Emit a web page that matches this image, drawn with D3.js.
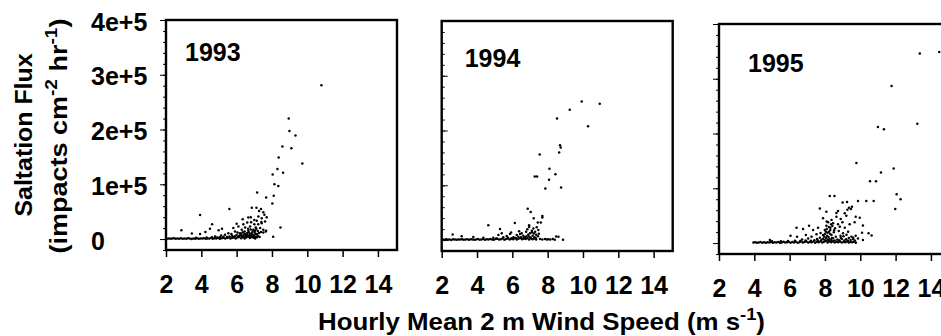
<!DOCTYPE html>
<html lang="en">
<head>
<meta charset="UTF-8">
<title>Saltation Flux vs Wind Speed</title>
<style>
    body { margin: 0; background: #fff; }
    svg text { font-family: "Liberation Sans", Arial, sans-serif; font-weight: bold; fill: #000; }
    .axis line { stroke: #000; }
</style>
</head>
<body>
<svg id="chart" width="941" height="336"></svg>
<script src="https://d3js.org/d3.v7.min.js"></script>
<script>
// values: [wind speed m/s, flux impacts cm-2 hr-1]
const years = ["1993", "1994", "1995"];
const xTicks = [2, 4, 6, 8, 10, 12, 14];
const yTicks = [0, 100000, 200000, 300000, 400000];
const yTickLabels = ["0", "1e+5", "2e+5", "3e+5", "4e+5"];

const spread1993 = [
    [10.8, 281000], [8.95, 220000], [8.99, 197500], [9.33, 189000], [9.1, 166000], [8.59, 169000],
    [9.72, 138000], [8.38, 149000], [8.31, 128000], [8.04, 118000], [8.63, 121000], [8.14, 100000],
    [8.36, 97000], [7.67, 76000], [7.16, 85000], [8.1, 79000], [8.02, 65000], [8.48, 21000],
    [8.07, 4000], [6.86, 57000], [7.12, 57000], [7.38, 55000], [7.27, 51400], [7.51, 49000],
    [7.57, 44200], [7.42, 38100], [7.23, 41100], [7.7, 40000], [5.59, 55000], [3.93, 44000],
    [4.61, 27000], [2.87, 16000], [3.46, 10000], [3.93, 9000], [4.23, 13000], [4.98, 16000],
    [5.17, 19000], [4.49, 18700], [6.0, 28000], [6.34, 36000], [6.6, 30000], [6.8, 40000],
    [7.0, 35000], [7.22, 27000], [7.4, 31000], [7.67, 15000], [7.51, 12000], [7.27, 11000],
    [6.66, 39300], [7.14, 33300], [6.82, 30900], [6.38, 27200], [7.0, 27200], [7.42, 29000],
    [7.61, 32000], [6.1, 23000], [6.48, 21100], [6.76, 23000], [7.08, 21100], [7.33, 20000],
    [7.51, 17000], [7.65, 13900], [7.38, 12700], [6.95, 17000], [6.66, 15100], [6.29, 17000],
    [5.91, 13900], [5.81, 20000], [5.53, 10800], [6.19, 10800], [6.48, 9000], [6.85, 10800],
    [7.14, 9000], [5.34, 7800], [5.12, 6600], [4.78, 4800], [5.6, 4500], [5.75, 6000],
    [5.9, 5200], [6.0, 7500], [6.1, 4000], [6.2, 6800], [6.3, 5500], [6.4, 8200], [6.5, 4600],
    [6.55, 6500], [6.6, 7200], [6.7, 5400], [6.75, 8800], [6.8, 6100], [6.9, 4800], [6.95, 7400],
    [7.0, 5600], [7.05, 9500], [7.1, 4400], [6.35, 12500], [6.7, 12000], [6.9, 13500],
    [7.05, 15500], [6.25, 9500], [5.45, 3800], [5.05, 3500], [4.6, 3200], [7.2, 6200], [7.3, 3800],
    [5.7, 9000], [5.85, 3200], [6.05, 11800], [6.15, 6000], [6.45, 14000], [6.6, 11000],
    [6.65, 19000], [6.8, 17500], [6.88, 7500], [7.02, 12800], [7.12, 18800], [7.2, 14500],
    [6.4, 5000], [6.72, 3800], [6.98, 3400], [5.25, 4400], [4.9, 2600], [4.3, 2800], [3.7, 2500]
];
const band1993 = [
    [2.05, 600], [2.15, 1200], [2.25, 400], [2.35, 900], [2.45, 1500], [2.55, 500], [2.65, 1100],
    [2.75, 700], [2.85, 1300], [2.95, 400], [3.05, 1000], [3.15, 600], [3.25, 1400], [3.35, 800],
    [3.45, 300], [3.55, 1200], [3.65, 700], [3.75, 1500], [3.85, 500], [3.95, 1100], [4.05, 800],
    [4.15, 1600], [4.25, 400], [4.35, 1200], [4.45, 900], [4.55, 1800], [4.65, 600], [4.75, 1400],
    [4.85, 1000], [4.95, 2000], [5.05, 700], [5.15, 1500], [5.25, 2400], [5.35, 1000], [5.45, 1800],
    [5.55, 3000], [5.65, 800], [5.75, 2200], [5.85, 3500], [5.95, 1200], [6.05, 2800], [6.15, 4200],
    [6.25, 1500], [6.35, 3300], [6.45, 900], [6.55, 2600], [6.65, 4800], [6.75, 1700], [6.85, 3900],
    [6.95, 2500], [7.05, 1200], [7.15, 3200]
];

const spread1994 = [
    [9.93, 253000], [10.95, 249000], [9.25, 238000], [10.29, 208000], [8.53, 222000], [8.7, 173000],
    [8.74, 169000], [8.65, 160000], [7.55, 156000], [8.1, 130000], [8.44, 120000], [8.08, 110000],
    [7.27, 116000], [7.4, 116000], [7.87, 94000], [8.76, 96000], [6.87, 57000], [7.04, 51000],
    [7.21, 40000], [7.7, 44000], [7.7, 41000], [7.44, 32000], [7.61, 32000], [6.95, 27000],
    [6.95, 24000], [4.64, 27000], [6.14, 31000], [5.3, 20000], [2.62, 10000], [3.13, 7000],
    [5.93, 14000], [6.38, 16000], [6.44, 11000], [5.21, 9100], [5.4, 12200], [5.68, 7300],
    [5.87, 11000], [6.25, 9100], [6.53, 12200], [6.62, 7900], [6.78, 15200], [6.85, 19500],
    [7.0, 12200], [7.1, 17000], [7.19, 21300], [7.29, 15200], [7.38, 23200], [7.47, 18300],
    [6.96, 6000], [6.72, 4900], [6.34, 6000], [6.06, 4900], [5.49, 4900], [4.92, 4200],
    [3.79, 5500], [4.36, 4200], [7.57, 1800], [7.85, 1800], [8.04, 1500], [8.29, 1800],
    [8.48, 6600], [8.61, 6000], [8.87, 500], [7.7, 1200], [7.95, 800], [8.15, 1000], [8.4, 700],
    [7.15, 8000], [7.25, 5200], [7.35, 9800], [7.45, 7000], [6.65, 3500], [5.95, 3200], [5.1, 3000],
    [6.9, 9500], [7.05, 4200], [7.22, 12000], [6.8, 7000], [6.5, 5000], [6.2, 3800], [5.75, 4000],
    [7.32, 3600], [7.5, 11500], [7.12, 14200]
];
const band1994 = [
    [2.05, 900], [2.15, 400], [2.25, 1300], [2.35, 700], [2.45, 1100], [2.55, 300], [2.65, 1400],
    [2.75, 800], [2.85, 500], [2.95, 1200], [3.05, 900], [3.15, 1600], [3.25, 400], [3.35, 1000],
    [3.45, 1300], [3.55, 600], [3.65, 1500], [3.75, 900], [3.85, 400], [3.95, 1200], [4.05, 1700],
    [4.15, 700], [4.25, 1100], [4.35, 1900], [4.45, 500], [4.55, 1300], [4.65, 800], [4.75, 2100],
    [4.85, 1000], [4.95, 600], [5.05, 1700], [5.15, 2300], [5.25, 900], [5.35, 1500], [5.45, 2700],
    [5.55, 700], [5.65, 1900], [5.75, 3000], [5.85, 1100], [5.95, 2400], [6.05, 1600], [6.15, 3200],
    [6.25, 900], [6.35, 2500], [6.45, 3600], [6.55, 1300], [6.65, 2800], [6.75, 1800], [6.85, 3400],
    [6.95, 1000], [7.05, 2600], [7.15, 1500], [7.25, 3000], [7.35, 800]
];

const spread1995 = [
    [13.37, 346000], [14.47, 349000], [11.77, 287000], [13.23, 218000], [11.0, 212000], [11.34, 208000],
    [9.78, 146000], [11.17, 129000], [11.89, 136000], [10.55, 113000], [10.89, 113000], [12.06, 89000],
    [12.28, 80000], [11.98, 62000], [8.27, 86000], [8.54, 86000], [9.87, 77000], [10.34, 77000],
    [10.76, 77000], [9.0, 74000], [9.25, 75000], [7.71, 63000], [9.36, 64500], [9.47, 62100],
    [9.27, 60800], [9.53, 66300], [8.08, 57200], [8.74, 58400], [8.65, 55000], [9.12, 54200],
    [9.21, 49900], [9.74, 48000], [9.97, 46200], [10.15, 32000], [10.64, 14000], [10.47, 18000],
    [10.1, 19000], [7.89, 45100], [8.37, 42000], [8.65, 48000], [8.89, 43800], [8.18, 37800],
    [8.46, 36000], [8.74, 34200], [8.99, 37800], [8.08, 31600], [8.31, 27900], [8.57, 26800],
    [8.84, 29800], [9.12, 27900], [9.4, 34200], [9.68, 37800], [7.99, 23700], [8.23, 20600],
    [8.5, 19500], [8.78, 21900], [9.02, 17700], [9.31, 20600], [7.89, 14600], [8.12, 13300],
    [8.37, 14600], [8.61, 11500], [8.88, 13300], [9.5, 11500], [9.74, 13300], [9.87, 8500],
    [10.15, 5500], [6.76, 25600], [6.39, 27900], [7.1, 31600], [7.33, 23700], [7.61, 27900],
    [6.05, 13300], [6.42, 11500], [6.92, 14600], [7.24, 11500], [7.52, 15900], [7.71, 9700],
    [4.88, 5500], [7.6, 4500], [7.8, 6000], [7.9, 8000], [8.0, 5000], [8.05, 9500], [8.15, 6500],
    [8.2, 4200], [8.25, 7800], [8.35, 5600], [8.45, 8800], [8.55, 4800], [8.7, 6300], [8.8, 5000],
    [8.95, 7200], [9.1, 4600], [9.2, 6800], [9.3, 4000], [9.45, 5500], [9.6, 6900], [9.7, 4300],
    [7.4, 5200], [7.2, 4000], [6.9, 4800], [6.6, 3800], [6.3, 4200], [5.9, 3600], [5.5, 3500],
    [5.0, 3200], [8.0, 16500], [8.15, 19000], [8.3, 24000], [8.1, 25500], [8.2, 11000],
    [8.4, 9000], [7.95, 11800], [9.35, 9000], [9.6, 9600], [8.05, 20500], [8.22, 29500],
    [8.42, 31000], [8.3, 16500], [8.52, 23500], [8.9, 9800], [9.05, 12500], [9.22, 15000],
    [7.75, 18500], [7.55, 7200], [7.05, 8200], [6.7, 6500], [8.1, 39500], [8.35, 34500]
];
const band1995 = [
    [3.95, 800], [4.05, 1500], [4.15, 500], [4.25, 1200], [4.35, 1800], [4.45, 700], [4.55, 1300],
    [4.65, 400], [4.75, 1600], [4.85, 1000], [4.95, 2000], [5.05, 600], [5.15, 1400], [5.25, 900],
    [5.35, 1900], [5.45, 500], [5.55, 1200], [5.65, 2200], [5.75, 800], [5.85, 1500], [5.95, 2500],
    [6.05, 700], [6.15, 1700], [6.25, 1100], [6.35, 2300], [6.45, 600], [6.55, 1400], [6.65, 2600],
    [6.75, 900], [6.85, 1800], [6.95, 2900], [7.05, 1000], [7.15, 2100], [7.25, 1500], [7.35, 3000],
    [7.45, 700], [7.55, 2400], [7.65, 1300], [7.75, 3300], [7.85, 900], [7.95, 2200], [8.05, 3600],
    [8.15, 1200], [8.25, 2700], [8.35, 1600], [8.45, 3100], [8.55, 800], [8.65, 2300], [8.75, 1400],
    [8.85, 2900], [8.95, 1000], [9.05, 2100], [9.15, 1500], [9.25, 2600], [9.35, 900], [9.45, 1900],
    [9.55, 1300], [9.65, 2200], [9.75, 700]
];

const panelData = [
    spread1993.concat(band1993),
    spread1994.concat(band1994),
    spread1995.concat(band1995)
];

// layout of the three frames
const panelW = 231, panelH = 230;
const panels = [
    { left: 166, top: 20, tickDir: -1, labelX: 19, labelY: 40.5 },
    { left: 441.7, top: 21, tickDir: 1, labelX: 23, labelY: 45.5 },
    { left: 719, top: 24, tickDir: -1, labelX: 29, labelY: 47.5 }
];

const svg = d3.select("#chart");

const x = d3.scaleLinear().domain([2, 15.08]).range([0, panelW]);
const y = d3.scaleLinear().domain([-20000, 400000]).range([panelH, 0]);
const minorTicks = d3.range(-20000, 400001, 20000);

panels.forEach((p, i) => {
    const g = svg.append("g").attr("transform", `translate(${p.left},${p.top})`);

    // points
    g.append("g")
        .selectAll("circle")
        .data(panelData[i])
        .join("circle")
        .attr("cx", d => x(d[0]))
        .attr("cy", d => y(d[1]))
        .attr("r", 1.25)
        .attr("fill", "#000");

    // minor y ticks
    g.append("g")
        .attr("class", "axis")
        .call(d3.axisLeft(y).tickValues(minorTicks).tickSize(p.tickDir * -3).tickFormat(""))
        .call(a => a.select(".domain").remove());

    // major y ticks
    const yAxis = g.append("g")
        .attr("class", "axis")
        .call(d3.axisLeft(y).tickValues(yTicks).tickSize(p.tickDir * -6)
            .tickFormat((d, k) => i === 0 ? yTickLabels[k] : ""))
        .call(a => a.select(".domain").remove());
    yAxis.selectAll("text")
        .attr("text-anchor", "start")
        .attr("x", -75)
        .attr("dy", null)
        .attr("y", 10)
        .attr("font-size", 25)
        .attr("font-family", null);

    // x axis
    const xAxis = g.append("g")
        .attr("class", "axis")
        .attr("transform", `translate(0,${panelH})`)
        .call(d3.axisBottom(x).tickValues(xTicks).tickSize(7))
        .call(a => a.select(".domain").remove());
    xAxis.selectAll("line").attr("stroke-width", 1.5);
    xAxis.selectAll("text")
        .attr("dy", null)
        .attr("y", 43)
        .attr("font-size", 25)
        .attr("font-family", null);

    // frame
    g.append("rect")
        .attr("width", panelW)
        .attr("height", panelH)
        .attr("fill", "none")
        .attr("stroke", "#000")
        .attr("stroke-width", 2.4);

    g.append("text")
        .attr("x", p.labelX)
        .attr("y", p.labelY)
        .attr("font-size", 25)
        .text(years[i]);
});

// axis titles
const xt = svg.append("text")
    .attr("x", 318)
    .attr("y", 330)
    .attr("font-size", 24)
    .attr("textLength", 447)
    .attr("lengthAdjust", "spacingAndGlyphs");
xt.append("tspan").text("Hourly Mean 2 m Wind Speed (m s");
xt.append("tspan").attr("font-size", 17).attr("dy", -10).text("-1");
xt.append("tspan").attr("dy", 10).text(")");

svg.append("text")
    .attr("transform", "translate(32,135) rotate(-90)")
    .attr("text-anchor", "middle")
    .attr("font-size", 24)
    .attr("textLength", 163)
    .attr("lengthAdjust", "spacingAndGlyphs")
    .text("Saltation Flux");

const yt = svg.append("text")
    .attr("transform", "translate(67,136) rotate(-90)")
    .attr("text-anchor", "middle")
    .attr("font-size", 24)
    .attr("textLength", 235)
    .attr("lengthAdjust", "spacingAndGlyphs");
yt.append("tspan").text("(impacts cm");
yt.append("tspan").attr("font-size", 17).attr("dy", -10).text("-2");
yt.append("tspan").attr("dy", 10).text(" hr");
yt.append("tspan").attr("font-size", 17).attr("dy", -10).text("-1");
yt.append("tspan").attr("dy", 10).text(")");
</script>
</body>
</html>
